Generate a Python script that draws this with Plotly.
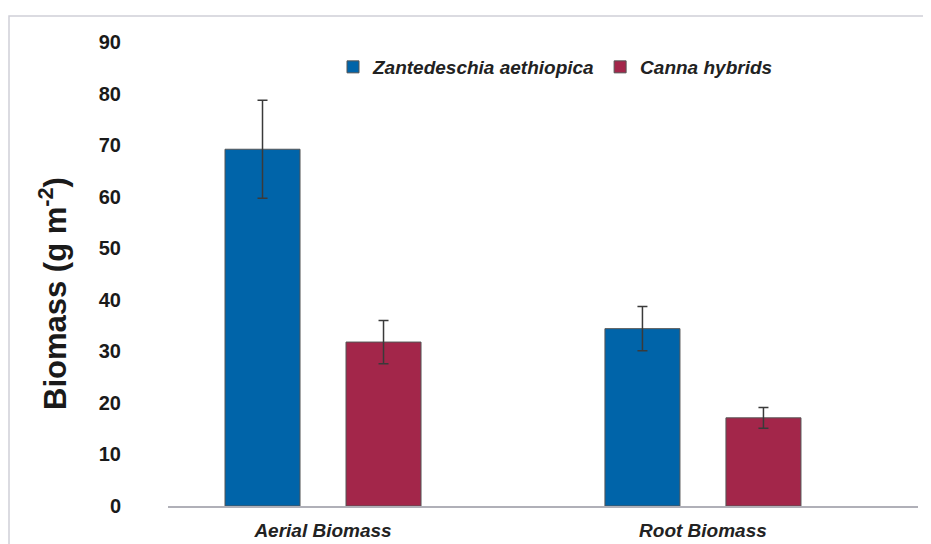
import plotly.graph_objects as go

categories = ["Aerial Biomass", "Root Biomass"]
series_names = ["Zantedeschia aethiopica", "Canna hybrids"]
zant_values = [69.2, 34.4]
zant_err = [9.5, 4.3]
canna_values = [31.8, 17.1]
canna_err = [4.2, 2.0]
y_ticks = [0, 10, 20, 30, 40, 50, 60, 70, 80, 90]
y_title = "Biomass (g m<sup>-2</sup>)"

colors = ["#0064A9", "#A3264A"]

fig = go.Figure()
for name, vals, errs, col in [
    (series_names[0], zant_values, zant_err, colors[0]),
    (series_names[1], canna_values, canna_err, colors[1]),
]:
    fig.add_trace(go.Bar(
        x=categories, y=vals, name=name,
        marker=dict(color=col, line=dict(color="#555555", width=1)),
        error_y=dict(type="data", array=errs, visible=True,
                     color="#3a3a3a", thickness=1.5, width=5),
    ))

# page body adds an 8px offset; compensate
OFF = 8
W, H = 931, 544
L = 168 - OFF
T = 42 - OFF
R = W - (918 - OFF)
B = H - (506 - OFF)
pw = W - L - R
ph = H - T - B


def px(xw):
    return (xw - OFF - L) / pw


def py(yw):
    return 1 - (yw - OFF - T) / ph


fig.update_layout(
    width=W, height=H,
    margin=dict(l=L, r=R, t=T, b=B, autoexpand=False),
    paper_bgcolor="white", plot_bgcolor="white",
    barmode="group", bargap=0.363, bargroupgap=0.38,
    font=dict(family="Liberation Sans, Arial, sans-serif", color="#1a1a1a"),
    showlegend=True,
    legend=dict(
        orientation="h", x=px(333), xanchor="left",
        y=py(67), yanchor="middle",
        font=dict(size=19, style="italic", weight="bold", color="#222222"),
        bgcolor="rgba(0,0,0,0)", itemwidth=30, tracegroupgap=0,
    ),
    xaxis=dict(
        type="category", range=[-0.408, 1.566],
        showline=True, linecolor="#b0b0b8", linewidth=1.5,
        ticks="", showgrid=False, ticklabelstandoff=6,
        tickfont=dict(size=19, style="italic", weight="bold", color="#222222"),
    ),
    yaxis=dict(
        range=[0, 90], tickvals=y_ticks, showgrid=False, zeroline=False,
        showline=False, ticks="", ticklabelstandoff=46,
        tickfont=dict(size=20, weight="bold", color="#1a1a1a"),
    ),
)

fig.add_annotation(
    text=y_title, textangle=-90, showarrow=False,
    xref="paper", yref="paper", x=px(53), y=py(294),
    xanchor="center", yanchor="middle",
    font=dict(size=31, weight="bold", color="#1a1a1a"),
)

# outer frame
fig.add_shape(type="rect", xref="paper", yref="paper",
              x0=(1 - L) / pw, x1=(W + 20 - L) / pw,
              y0=1 - (H + 20 - T) / ph, y1=py(16),
              line=dict(color="#d0d0d8", width=1.5), fillcolor="rgba(0,0,0,0)",
              layer="below")

fig.write_html("out.html")
